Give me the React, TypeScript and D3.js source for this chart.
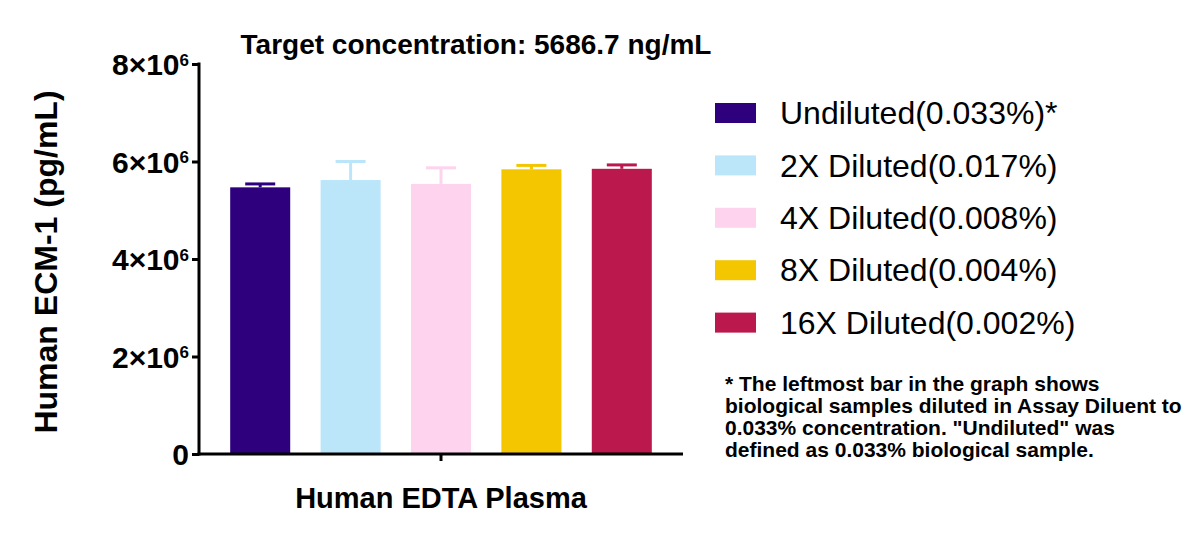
import { useEffect, useRef } from "react";
import * as d3 from "d3";

const categories = [
  "Undiluted(0.033%)*",
  "2X Diluted(0.017%)",
  "4X Diluted(0.008%)",
  "8X Diluted(0.004%)",
  "16X Diluted(0.002%)",
];
const means = [5.47e6, 5.62e6, 5.54e6, 5.84e6, 5.85e6];
const errors = [0.07e6, 0.38e6, 0.33e6, 0.08e6, 0.08e6];
const colors = ["#2e007e", "#bbe6fa", "#fdd3ee", "#f4c600", "#bb184d"];
const yTicks = [0, 2e6, 4e6, 6e6, 8e6];
const groupLabel = "Human EDTA Plasma";
const footnote = [
  '* The leftmost bar in the graph shows',
  "biological samples diluted in Assay Diluent to",
  '0.033% concentration. "Undiluted" was',
  "defined as 0.033% biological sample.",
];

const FONT = "Arial, 'Liberation Sans', Helvetica, sans-serif";

export default function App() {
  const svgRef = useRef<SVGSVGElement>(null);

  useEffect(() => {
    if (!svgRef.current) return;
    const svg = d3.select(svgRef.current);
    svg.selectAll("*").remove();
    svg.attr("font-family", FONT);

    const plot = { left: 199, right: 683, top: 64, bottom: 454 };

    const x = d3
      .scaleBand<string>()
      .domain(categories)
      .range([plot.left, plot.right])
      .paddingInner(0.336)
      .paddingOuter(0.345);

    const y = d3
      .scaleLinear()
      .domain([0, 8e6])
      .range([plot.bottom, plot.top]);

    // Bars
    svg
      .append("g")
      .selectAll("rect")
      .data(means)
      .join("rect")
      .attr("x", (_d, i) => x(categories[i])!)
      .attr("y", (d) => y(d))
      .attr("width", x.bandwidth())
      .attr("height", (d) => y(0) - y(d))
      .attr("fill", (_d, i) => colors[i]);

    // Error bars (upper only)
    const eb = svg
      .append("g")
      .selectAll("g")
      .data(means)
      .join("g")
      .attr("stroke", (_d, i) => colors[i])
      .attr("stroke-width", 3);
    eb.append("line")
      .attr("x1", (_d, i) => x(categories[i])! + x.bandwidth() / 2)
      .attr("x2", (_d, i) => x(categories[i])! + x.bandwidth() / 2)
      .attr("y1", (d) => y(d))
      .attr("y2", (d, i) => y(d + errors[i]));
    eb.append("line")
      .attr("x1", (_d, i) => x(categories[i])! + x.bandwidth() / 4)
      .attr("x2", (_d, i) => x(categories[i])! + (x.bandwidth() * 3) / 4)
      .attr("y1", (d, i) => y(d + errors[i]))
      .attr("y2", (d, i) => y(d + errors[i]));

    // Y axis
    const yAxis = svg
      .append("g")
      .attr("transform", `translate(${plot.left},0)`)
      .call(
        d3
          .axisLeft(y)
          .tickValues(yTicks)
          .tickSize(7)
          .tickSizeOuter(0)
          .tickPadding(4)
          .tickFormat(() => "")
      );
    yAxis.selectAll("path, line").attr("stroke", "#000").attr("stroke-width", 3);
    yAxis.select(".domain").attr("d", `M0,${plot.top - 1.5}V${plot.bottom + 1.5}`);
    yAxis
      .selectAll<SVGTextElement, number>(".tick text")
      .attr("fill", "#000")
      .attr("font-family", FONT)
      .attr("font-weight", "bold")
      .attr("font-size", 30)
      .attr("x", -10)
      .attr("dy", "0.35em")
      .each(function (d) {
        const t = d3.select(this);
        if (d === 0) {
          t.text("0");
          return;
        }
        t.append("tspan").text(`${d / 1e6}×10`);
        t.append("tspan").attr("font-size", 17).attr("dy", "-0.55em").text("6");
      });

    // X axis
    const xAxis = svg
      .append("g")
      .attr("transform", `translate(0,${plot.bottom})`);
    xAxis
      .append("line")
      .attr("x1", plot.left - 1.5)
      .attr("x2", plot.right)
      .attr("stroke", "#000")
      .attr("stroke-width", 3);
    xAxis
      .append("line")
      .attr("x1", (plot.left + plot.right) / 2)
      .attr("x2", (plot.left + plot.right) / 2)
      .attr("y1", 0)
      .attr("y2", 7)
      .attr("stroke", "#000")
      .attr("stroke-width", 3);

    svg
      .append("text")
      .attr("x", (plot.left + plot.right) / 2)
      .attr("y", 508)
      .attr("text-anchor", "middle")
      .attr("font-weight", "bold")
      .attr("font-size", 29)
      .text(groupLabel);

    // Y title
    svg
      .append("text")
      .attr("transform", `translate(57,${262}) rotate(-90)`)
      .attr("text-anchor", "middle")
      .attr("font-weight", "bold")
      .attr("font-size", 32)
      .text("Human ECM-1 (pg/mL)");

    // Title
    svg
      .append("text")
      .attr("x", 476)
      .attr("y", 54)
      .attr("text-anchor", "middle")
      .attr("font-weight", "bold")
      .attr("font-size", 28)
      .text("Target concentration: 5686.7 ng/mL");

    // Legend
    const legend = svg
      .append("g")
      .selectAll("g")
      .data(categories)
      .join("g")
      .attr("transform", (_d, i) => `translate(715,${113 + i * 52.4})`);
    legend
      .append("rect")
      .attr("x", 0)
      .attr("y", -10)
      .attr("width", 41)
      .attr("height", 20)
      .attr("fill", (_d, i) => colors[i]);
    legend
      .append("text")
      .attr("x", 65)
      .attr("dy", "0.35em")
      .attr("font-size", 32)
      .text((d) => d);

    // Footnote
    svg
      .append("text")
      .attr("font-weight", "bold")
      .attr("font-size", 21)
      .selectAll("tspan")
      .data(footnote)
      .join("tspan")
      .attr("x", 725)
      .attr("y", (_d, i) => 391 + i * 22)
      .text((d) => d);
  }, []);

  return (
    <svg
      ref={svgRef}
      width={1200}
      height={539}
      style={{ position: "absolute", left: 0, top: 0, background: "#fff" }}
    />
  );
}
